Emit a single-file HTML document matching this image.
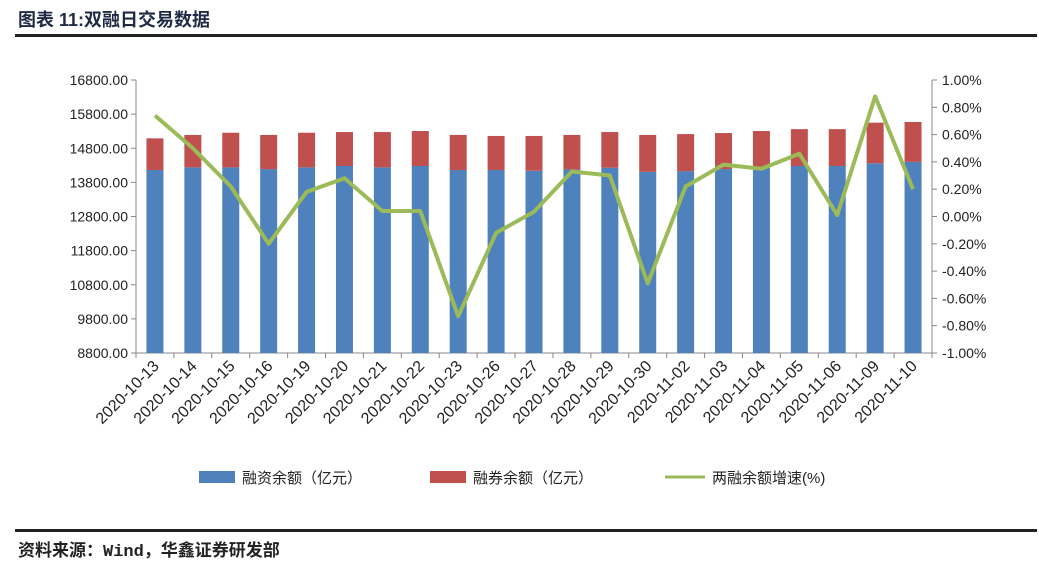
<!DOCTYPE html>
<html><head><meta charset="utf-8">
<style>
body{margin:0;width:1039px;height:565px;background:#fff;overflow:hidden;font-family:"Liberation Sans","Noto Sans CJK SC",sans-serif;}
#title{position:absolute;left:18px;top:6px;font-size:18px;font-weight:bold;color:#1f2a44;}
#tline{position:absolute;left:15px;top:34px;width:1022px;height:3px;background:#222;}
#bline{position:absolute;left:15px;top:529px;width:1022px;height:3px;background:#222;}
#src{position:absolute;left:18px;top:536px;font-size:17px;font-weight:bold;color:#222;font-family:"Liberation Mono","Noto Sans CJK SC",monospace;}
svg{position:absolute;left:0;top:0;}
</style></head><body>
<div id="title">图表 11:双融日交易数据</div>
<div id="tline"></div>
<svg id="chart" width="1039" height="565"></svg>
<div id="bline"></div>
<div id="src">资料来源：Wind，华鑫证券研发部</div>
<script>
const categories=["2020-10-13","2020-10-14","2020-10-15","2020-10-16","2020-10-19","2020-10-20","2020-10-21","2020-10-22","2020-10-23","2020-10-26","2020-10-27","2020-10-28","2020-10-29","2020-10-30","2020-11-02","2020-11-03","2020-11-04","2020-11-05","2020-11-06","2020-11-09","2020-11-10"];
const financing=[14163,14240,14240,14190,14240,14280,14240,14280,14163,14163,14140,14180,14230,14110,14130,14190,14230,14280,14280,14360,14400];
const securities=[927,950,1015,1000,1015,995,1035,1025,1027,997,1020,1010,1045,1080,1085,1055,1075,1080,1080,1190,1170];
const growth=[0.74,0.50,0.22,-0.20,0.18,0.28,0.04,0.04,-0.73,-0.12,0.035,0.33,0.30,-0.49,0.22,0.38,0.35,0.46,0.01,0.88,0.20];
const leftTicks=[8800,9800,10800,11800,12800,13800,14800,15800,16800];
const rightTicks=[-1,-0.8,-0.6,-0.4,-0.2,0,0.2,0.4,0.6,0.8,1];
const NS="http://www.w3.org/2000/svg";
const svg=document.getElementById('chart');
const X0=136,X1=932,Y0=353,Y1=80;
const step=(X1-X0)/categories.length;
const xc=i=>X0+step*(i+0.5);
const yl=v=>Y0-(v-8800)/8000*(Y0-Y1);
const yr=v=>Y0-(v+1)/2*(Y0-Y1);
function mk(t,a,txt){const e=document.createElementNS(NS,t);for(const k in a)e.setAttribute(k,a[k]);if(txt!==undefined)e.textContent=txt;svg.appendChild(e);return e;}
let e;
e=mk('line',{x1:X0,y1:Y1,x2:X0,y2:Y0,stroke:'#888'});


e=mk('line',{x1:X1,y1:Y1,x2:X1,y2:Y0,stroke:'#888'});


e=mk('line',{x1:X0,y1:Y0,x2:X1,y2:Y0,stroke:'#888'});


leftTicks.forEach(v=>{const y=yl(v);
mk('line',{x1:X0-5,y1:y,x2:X0,y2:y,stroke:'#888'});
e=mk('text',{x:X0-8,y:y+5,'text-anchor':'end','font-size':14,fill:'#222'},v.toFixed(2));

});
rightTicks.forEach(v=>{const y=yr(v);
mk('line',{x1:X1,y1:y,x2:X1+5,y2:y,stroke:'#888'});
e=mk('text',{x:X1+10,y:y+5,'font-size':14,fill:'#222'},v.toFixed(2)+'%');

});
for(let i=0;i<=categories.length;i++){const x=X0+step*i;mk('line',{x1:x,y1:Y0,x2:x,y2:Y0+5,stroke:'#888'});}
const bw=17;
categories.forEach((c,i)=>{const x=xc(i);
e=mk('rect',{x:x-bw/2,y:yl(financing[i]),width:bw,height:Y0-yl(financing[i]),fill:'#4f81bd'});


const tot=financing[i]+securities[i];
e=mk('rect',{x:x-bw/2,y:yl(tot),width:bw,height:yl(financing[i])-yl(tot),fill:'#c0504d'});


e=mk('text',{x:x+5,y:Y0+14,'text-anchor':'end','font-size':16,fill:'#222',transform:`rotate(-45 ${x+5} ${Y0+14})`},c);

});
e=mk('polyline',{points:growth.map((v,i)=>xc(i)+','+yr(v)).join(' '),fill:'none',stroke:'#9bbb59','stroke-width':4,'stroke-linejoin':'round'});


e=mk('rect',{x:199,y:471,width:36,height:12,fill:'#4f81bd'});


e=mk('text',{x:242,y:483,'font-size':15,fill:'#222'},'融资余额（亿元）');


e=mk('rect',{x:430,y:471,width:36,height:12,fill:'#c0504d'});


e=mk('text',{x:473,y:483,'font-size':15,fill:'#222'},'融券余额（亿元）');


e=mk('line',{x1:665,y1:477,x2:705,y2:477,stroke:'#9bbb59','stroke-width':3});


e=mk('text',{x:712,y:483,'font-size':15,fill:'#222'},'两融余额增速(%)');


</script>
</body></html>
